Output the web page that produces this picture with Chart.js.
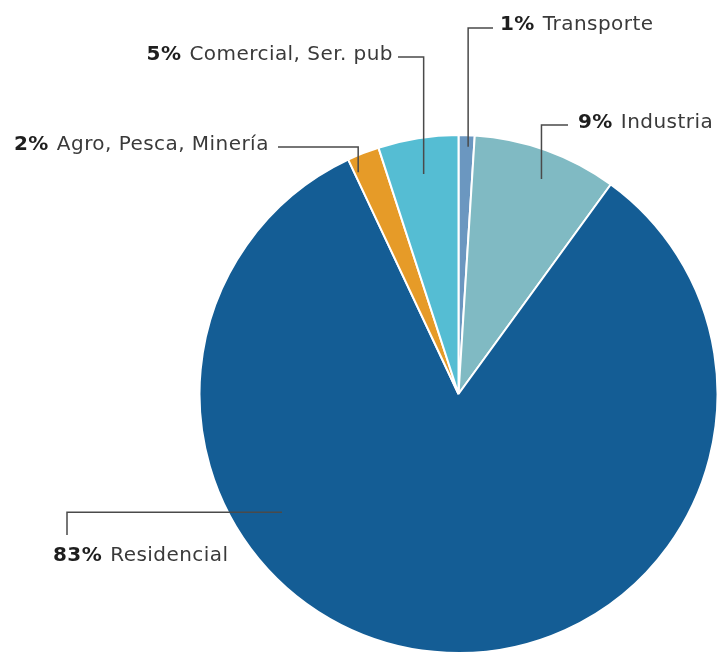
<!DOCTYPE html>
<html>
<head>
<meta charset="utf-8">
<script src="https://cdn.jsdelivr.net/npm/chart.js@4.4.1/dist/chart.umd.min.js"></script>
<style>
  html, body { margin: 0; padding: 0; background: #ffffff; }
  #wrap { width: 719px; height: 654px; }
</style>
</head>
<body>
<div id="wrap"><canvas id="c" width="719" height="654"></canvas></div>
<script>
// Sector shares of consumption, clockwise from 12 o'clock
const sectors = ['Transporte', 'Industria', 'Residencial', 'Agro, Pesca, Minería', 'Comercial, Ser. pub'];
const shares = [1, 9, 83, 2, 5];
const sectorColors = ['#6b97c0', '#80bac3', '#145d95', '#e69b28', '#55bdd3'];

// Callout layout per slice: anchor inside slice (angular fraction, radius fraction),
// elbow point and text position.
const callouts = [
  { frac: 0.62, rad: 0.955, route: 'vh', elbowY: 28, endX: 493, textX: 500, textY: 30, align: 'left' },
  { frac: 0.54, rad: 0.89,  route: 'vh', elbowY: 125, endX: 568, textX: 578, textY: 128, align: 'left' },
  { frac: 0.67, rad: 0.82,  route: 'hv', elbowX: 67, endY: 535, textX: 53, textY: 561, align: 'left' },
  { frac: 0.12, rad: 0.94,  route: 'vh', elbowY: 147, endX: 278, textX: 14, textY: 150, align: 'left' },
  { frac: 0.5,  rad: 0.86,  route: 'vh', elbowY: 57, endX: 398, textX: 393, textY: 60, align: 'right' }
];

const FONT = '"DejaVu Sans", sans-serif';
const SIZE = 20;
const TRACKING = '0.45px';

const calloutPlugin = {
  id: 'callouts',
  afterDatasetsDraw(chart) {
    const ctx = chart.ctx;
    const arcs = chart.getDatasetMeta(0).data;
    ctx.save();
    arcs.forEach((arc, i) => {
      const c = callouts[i];
      const p = arc.getProps(['x', 'y', 'startAngle', 'endAngle', 'outerRadius'], true);
      const a = p.startAngle + (p.endAngle - p.startAngle) * c.frac;
      const r = p.outerRadius * c.rad;
      const ax = p.x + Math.cos(a) * r;
      const ay = p.y + Math.sin(a) * r;

      ctx.strokeStyle = '#4a4a4a';
      ctx.lineWidth = 1.5;
      ctx.beginPath();
      ctx.moveTo(ax, ay);
      if (c.route === 'vh') {
        ctx.lineTo(ax, c.elbowY);
        ctx.lineTo(c.endX, c.elbowY);
      } else {
        ctx.lineTo(c.elbowX, ay);
        ctx.lineTo(c.elbowX, c.endY);
      }
      ctx.stroke();

      const pct = shares[i] + '%';
      const name = sectors[i];
      ctx.textBaseline = 'alphabetic';
      ctx.letterSpacing = TRACKING;
      ctx.font = 'bold ' + SIZE + 'px ' + FONT;
      const wPct = ctx.measureText(pct).width;
      ctx.font = SIZE + 'px ' + FONT;
      const gap = 8;
      const wName = ctx.measureText(name).width;
      const x0 = c.align === 'right' ? c.textX - (wPct + gap + wName) : c.textX;
      ctx.textAlign = 'left';
      ctx.font = 'bold ' + SIZE + 'px ' + FONT;
      ctx.fillStyle = '#1e1e1e';
      ctx.fillText(pct, x0, c.textY);
      ctx.font = SIZE + 'px ' + FONT;
      ctx.fillStyle = '#3a3a3a';
      ctx.fillText(name, x0 + wPct + gap, c.textY);
    });
    ctx.restore();
  }
};

new Chart(document.getElementById('c'), {
  type: 'pie',
  data: {
    labels: sectors,
    datasets: [{
      data: shares,
      backgroundColor: sectorColors,
      borderColor: '#ffffff',
      borderWidth: 2
    }]
  },
  options: {
    responsive: false,
    animation: false,
    layout: { padding: { left: 198, right: 0, top: 134, bottom: 0 } },
    plugins: {
      legend: { display: false },
      tooltip: { enabled: false }
    }
  },
  plugins: [calloutPlugin]
});
</script>
</body>
</html>
